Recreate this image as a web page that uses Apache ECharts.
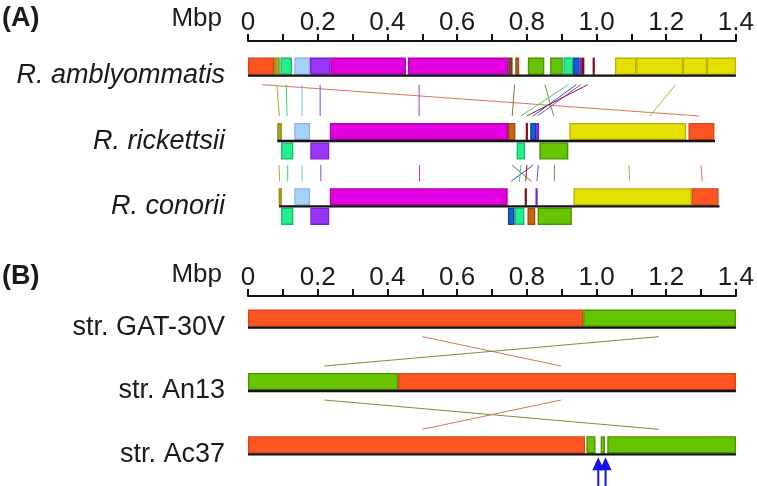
<!DOCTYPE html>
<html><head><meta charset="utf-8">
<script src="https://cdn.jsdelivr.net/npm/echarts@6/dist/echarts.min.js"></script>
<style>html,body{margin:0;padding:0;background:#fff}#c{width:757px;height:486px}</style>
</head><body><div id="c"></div>
<script>
// ---------- data ----------
const tickLabels = ['0','0.2','0.4','0.6','0.8','1.0','1.2','1.4'];
const rowsA = ['R. amblyommatis','R. rickettsii','R. conorii'];
const rowsB = ['str. GAT-30V','str. An13','str. Ac37'];
// genome extents (Mbp) per row
const spanA = [[0,1.4],[0.084,1.34],[0.089,1.353]];
const spanB = [[0,1.4],[0,1.4],[0,1.4]];
// blocks: [start Mbp, end Mbp, LCB id, strand (+1 forward / -1 reverse)]
const ambly = [[0,0.075,'R',1],[0.075,0.091,'OL',1],[0.093,0.126,'SG',1],[0.133,0.178,'LB',1],[0.178,0.237,'PU',1],
  [0.237,0.453,'MG',1],[0.459,0.747,'MG',1],[0.747,0.759,'BR',1],[0.767,0.778,'OR',1],[0.803,0.85,'GR',1],
  [0.867,0.903,'GR',1],[0.905,0.933,'SG',1],[0.933,0.951,'BL',1],[0.951,0.958,'PU',1],[0.958,0.965,'DR',1],
  [0.989,0.995,'DR',1],[1.053,1.114,'YE',1],[1.114,1.248,'YE',1],[1.248,1.317,'YE',1],[1.317,1.4,'YE',1]];
const rick = [[0.084,0.097,'OL',1],[0.095,0.13,'SG',-1],[0.133,0.178,'LB',1],[0.179,0.233,'PU',-1],[0.235,0.746,'MG',1],
  [0.746,0.767,'OR',1],[0.771,0.795,'SG',-1],[0.797,0.803,'DR',1],[0.81,0.827,'BL',1],[0.827,0.835,'PU',1],
  [0.836,0.919,'GR',-1],[0.922,1.257,'YE',1],[1.264,1.338,'R',1]];
const conor = [[0.088,0.097,'OL',1],[0.095,0.13,'SG',-1],[0.133,0.178,'LB',1],[0.179,0.233,'PU',-1],[0.235,0.745,'MG',1],
  [0.746,0.765,'BL',-1],[0.765,0.793,'SG',-1],[0.794,0.8,'DR',1],[0.802,0.824,'OR',-1],[0.825,0.831,'PU',1],
  [0.831,0.929,'GR',-1],[0.934,1.273,'YE',1],[1.273,1.35,'R',1]];
// links between consecutive rows: [x in upper row, x in lower row, LCB id]
const linksA12 = [[0.041,1.295,'R'],[0.083,0.09,'OL'],[0.110,0.112,'SG'],[0.155,0.155,'LB'],[0.207,0.207,'PU'],
  [0.491,0.491,'MG'],[0.765,0.758,'BR'],[0.852,0.877,'GR'],[0.919,0.783,'SG'],[0.942,0.818,'BL'],[0.954,0.831,'PU'],
  [0.975,0.800,'DR'],[1.227,1.153,'YE']];
const linksA23 = [[0.089,0.091,'OL'],[0.114,0.114,'SG'],[0.155,0.155,'LB'],[0.209,0.209,'PU'],[0.492,0.492,'MG'],
  [0.757,0.813,'BR'],[0.818,0.755,'BL'],[0.783,0.779,'SG'],[0.8,0.797,'DR'],[0.833,0.829,'PU'],[0.879,0.879,'GR'],
  [1.093,1.095,'YE'],[1.3,1.303,'R']];
const gat = [[0,0.962,'R',1],[0.962,1.4,'GR',1]];
const an13 = [[0,0.431,'GR',1],[0.431,1.4,'R',1]];
const ac37 = [[0,0.967,'R',1],[0.971,0.997,'GR',1],[1.012,1.024,'GR',1],[1.031,1.4,'GR',1]];
const linksB12 = [[0.5,0.898,'R'],[1.179,0.219,'GR']];
const linksB23 = [[0.219,1.179,'GR'],[0.898,0.5,'R']];
const arrowsAc37 = [1.005,1.026];

// ---------- styles ----------
const FONT = '"Liberation Sans", Arial, sans-serif';
const LCB = {
  R:{fill:'#ff5520',stroke:'#d4461c',line:'#d8735f'},
  OL:{fill:'#b0a41c',stroke:'#978a14',line:'#b0a440'},
  SG:{fill:'#22f08a',stroke:'#19b86a',line:'#3fcf80'},
  LB:{fill:'#a9d1f8',stroke:'#86b6ec',line:'#8cb8e8'},
  PU:{fill:'#9a34f6',stroke:'#7a22d2',line:'#8a44e0'},
  MG:{fill:'#e000e0',stroke:'#ad00ad',line:'#c030c0'},
  BR:{fill:'#8a4a20',stroke:'#6a3410',line:'#9a6a40'},
  OR:{fill:'#c8640e',stroke:'#9a4a0c',line:'#b07030'},
  GR:{fill:'#66c400',stroke:'#4b9200',line:'#6a9a30'},
  BL:{fill:'#1262d6',stroke:'#0b40a0',line:'#3050c0'},
  DR:{fill:'#a01818',stroke:'#801010',line:'#902020'},
  YE:{fill:'#e6e000',stroke:'#b9b200',line:'#b8b040'}
};
const BH = 17;

function buildGrid(rowsBlocks, spans, links, gi) {
  const blocks = [], base = [], lk = [];
  rowsBlocks.forEach((bl, r) => bl.forEach(b => blocks.push({x0:b[0], x1:b[1], id:b[2], s:b[3], row:r})));
  spans.forEach((s, r) => base.push({x0:s[0], x1:s[1], row:r}));
  const hasRev = rowsBlocks.map(bl => bl.some(b => b[3] < 0));
  links.forEach((ls, r) => ls.forEach(l => lk.push({xa:l[0], xb:l[1], id:l[2], row:r, clr: hasRev[r] ? 24 : 9})));
  return [
    {type:'custom', xAxisIndex:gi, yAxisIndex:gi, z:3, silent:true,
      data: blocks.map(b => [b.x0, b.x1, b.row]),
      encode:{x:[0,1], y:2},
      renderItem:(p, api) => {
        const b = blocks[p.dataIndex];
        const a = api.coord([b.x0, b.row]), c = api.coord([b.x1, b.row]);
        const y = b.s > 0 ? a[1] - 1 - BH : a[1] + 1.5;
        const st = LCB[b.id];
        return {type:'rect', shape:{x:a[0]+0.6, y:y+0.6, width:Math.max(c[0]-a[0]-1.2, 0.8), height:BH-1.2},
          style:{fill:st.fill, stroke:st.stroke, lineWidth:1.3}};
      }},
    {type:'custom', xAxisIndex:gi, yAxisIndex:gi, z:4, silent:true,
      data: base.map(b => [b.x0, b.x1, b.row]),
      encode:{x:[0,1], y:2},
      renderItem:(p, api) => {
        const b = base[p.dataIndex];
        const a = api.coord([b.x0, b.row]), c = api.coord([b.x1, b.row]);
        return {type:'line', shape:{x1:a[0], y1:a[1], x2:c[0], y2:a[1]}, style:{stroke:'#111', lineWidth:2.4}};
      }},
    {type:'custom', xAxisIndex:gi, yAxisIndex:gi, z:2, silent:true,
      data: lk.map(l => [l.xa, l.xb, l.row]),
      encode:{x:[0,1], y:2},
      renderItem:(p, api) => {
        const l = lk[p.dataIndex];
        const a = api.coord([l.xa, l.row]), c = api.coord([l.xb, l.row + 1]);
        return {type:'line', shape:{x1:a[0], y1:a[1] + l.clr, x2:c[0], y2:c[1] - 25},
          style:{stroke:LCB[l.id].line, lineWidth:1}};
      }}
  ];
}

const xAxisBase = (gi) => ({
  type:'value', gridIndex:gi, position:'top', min:0, max:1.4, interval:0.1, offset: gi === 0 ? 2 : 0,
  axisLine:{show:true, onZero:false, lineStyle:{color:'#111', width:2}},
  axisTick:{show:true, length:7, lineStyle:{color:'#111', width:2}},
  splitLine:{show:false},
  axisLabel:{fontSize:26, color:'#1a1a1a', fontFamily:FONT, margin:5,
    formatter:(v) => { const i = Math.round(v * 10); return i % 2 === 0 ? tickLabels[i / 2] : ''; }}
});
const yAxisBase = (gi, rows, italic) => ({
  type:'category', gridIndex:gi, data:rows, inverse:true,
  axisLine:{show:false}, axisTick:{show:false}, splitLine:{show:false},
  axisLabel:{fontSize:27, color:'#1a1a1a', fontFamily:FONT, fontStyle: italic ? 'italic' : 'normal', margin:23}
});

const chart = echarts.init(document.getElementById('c'), null, {renderer:'canvas'});
const seriesA = buildGrid([ambly, rick, conor], spanA, [linksA12, linksA23], 0);
const seriesB = buildGrid([gat, an13, ac37], spanB, [linksB12, linksB23], 1);
const arrowSeries = {type:'custom', xAxisIndex:1, yAxisIndex:1, z:5, silent:true,
  data: arrowsAc37.map(x => [x, 2]), encode:{x:0, y:1},
  renderItem:(p, api) => {
    const c = api.coord([api.value(0), 2]);
    const x = c[0], y = c[1];
    return {type:'group', children:[
      {type:'line', shape:{x1:x, y1:y+12, x2:x, y2:y+32}, style:{stroke:'#1414e6', lineWidth:2}},
      {type:'polygon', shape:{points:[[x, y+3],[x-6, y+16],[x+6, y+16]]}, style:{fill:'#1414e6'}}
    ]};
  }};

chart.setOption({
  animation:false,
  backgroundColor:'#fff',
  grid:[{left:248, right:19, top:43, height:196}, {left:248, right:19, top:296, height:195}],
  xAxis:[xAxisBase(0), xAxisBase(1)],
  yAxis:[yAxisBase(0, rowsA, true), yAxisBase(1, rowsB, false)],
  graphic:[
    {type:'text', left:2, top:5, style:{text:'(A)', fontSize:27, fontWeight:'bold', fill:'#1a1a1a', fontFamily:FONT}},
    {type:'text', left:2, top:263, style:{text:'(B)', fontSize:27, fontWeight:'bold', fill:'#1a1a1a', fontFamily:FONT}},
    {type:'text', right:535, top:6, style:{text:'Mbp', fontSize:26, fill:'#1a1a1a', fontFamily:FONT}},
    {type:'text', right:535, top:262, style:{text:'Mbp', fontSize:26, fill:'#1a1a1a', fontFamily:FONT}}
  ],
  series: seriesA.concat(seriesB, [arrowSeries])
});
</script></body></html>
